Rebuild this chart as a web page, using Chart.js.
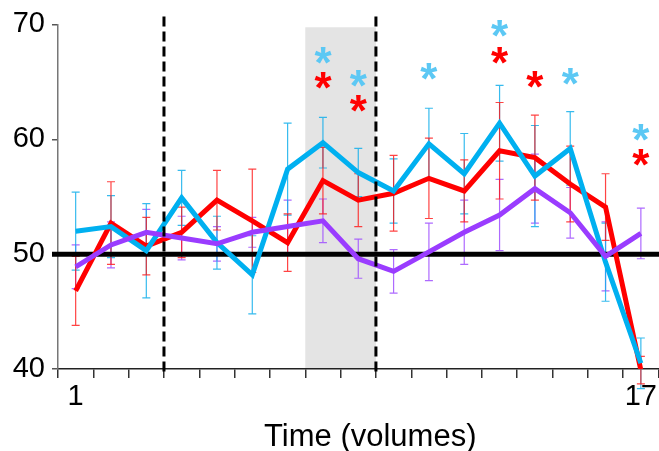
<!DOCTYPE html>
<html>
<head>
<meta charset="utf-8">
<script src="https://cdn.jsdelivr.net/npm/chart.js@4.4.1/dist/chart.umd.min.js"></script>
<style>
  html, body { margin: 0; padding: 0; background: #fff; }
  #wrap { width: 659px; height: 451px; }
</style>
</head>
<body>
<div id="wrap"><canvas id="volChart" width="659" height="451"></canvas></div>
<script>
// volumes on the x axis
const volumes = ['1', '2', '3', '4', '5', '6', '7', '8', '9', '10', '11', '12', '13', '14', '15', '16', '17'];

// mean signal per volume, with error (+/-) per volume
const purpleMean = [48.9, 50.8, 51.9, 51.4, 50.9, 51.9, 52.4, 52.9, 49.6, 48.5, 50.2, 51.9, 53.4, 55.7, 53.6, 49.8, 51.8];
const purpleErr  = [1.9, 2.0, 2.0, 1.9, 1.5, 1.3, 2.3, 1.9, 1.7, 1.9, 2.5, 2.8, 3.1, 3.0, 2.2, 3.0, 2.2];

const blueMean = [52.0, 52.4, 50.3, 54.9, 51.0, 48.2, 57.4, 59.7, 57.1, 55.5, 59.6, 57.0, 61.4, 56.8, 59.2, 49.3, 40.5];
const blueErr  = [3.4, 2.7, 4.1, 2.4, 2.3, 3.4, 4.0, 2.2, 2.1, 2.8, 3.1, 3.5, 3.3, 4.4, 3.2, 3.4, 2.2];

const redMean = [46.8, 52.7, 50.7, 51.9, 54.7, 52.9, 51.0, 56.4, 54.7, 55.3, 56.6, 55.5, 59.0, 58.4, 56.1, 54.1, 39.9];
const redErr  = [3.0, 3.6, 2.5, 2.2, 2.6, 4.5, 2.5, 2.9, 2.3, 3.3, 3.5, 2.7, 4.2, 3.7, 3.3, 2.9, 1.2];

// significance markers: [volume, height]
const blueStars = [[8, 67.0], [9, 65.0], [11, 65.65], [13, 69.4], [15, 65.2], [17, 60.3]];
const redStars  = [[8, 64.8], [9, 62.8], [13, 67.0], [14, 64.9], [17, 58.1]];

const yTicks = [40, 50, 60, 70];
const baseline = 50;
const onsets = [3.5, 9.5];       // dashed markers between volumes
const shadeVolumes = [8, 9];     // grey block
const shadeTop = 69.75;

const FONT = "'Liberation Sans', Arial, sans-serif";

const overlay = {
  id: 'overlay',
  beforeDatasetsDraw(chart) {
    const { ctx, chartArea, scales: { x, y } } = chart;
    const half = (x.getPixelForValue(1) - x.getPixelForValue(0)) / 2;
    ctx.save();

    // grey block
    const sx0 = x.getPixelForValue(shadeVolumes[0] - 1) - half;
    const sx1 = x.getPixelForValue(shadeVolumes[1] - 1) + half;
    const sy = y.getPixelForValue(shadeTop);
    ctx.fillStyle = '#e4e4e4';
    ctx.fillRect(sx0, sy, sx1 - sx0, chartArea.bottom - 1 - sy);

    // error bars
    chart.data.datasets.forEach(ds => {
      ctx.strokeStyle = ds.errColor;
      ctx.lineWidth = 1.2;
      ds.data.forEach((v, i) => {
        const e = ds.errors[i];
        const px = x.getPixelForValue(i);
        const top = y.getPixelForValue(v + e);
        const bot = y.getPixelForValue(v - e);
        ctx.beginPath();
        ctx.moveTo(px, top); ctx.lineTo(px, bot);
        ctx.moveTo(px - 4, top); ctx.lineTo(px + 4, top);
        ctx.moveTo(px - 4, bot); ctx.lineTo(px + 4, bot);
        ctx.stroke();
      });
    });

    // reference line at 50
    const by = y.getPixelForValue(baseline);
    ctx.strokeStyle = '#000';
    ctx.lineWidth = 5;
    ctx.beginPath();
    ctx.moveTo(chartArea.left - 6, by);
    ctx.lineTo(chart.width, by);
    ctx.stroke();
    ctx.restore();
  },
  afterDatasetsDraw(chart) {
    const { ctx, chartArea, scales: { x, y } } = chart;
    const step = x.getPixelForValue(1) - x.getPixelForValue(0);
    ctx.save();

    // onset markers
    ctx.strokeStyle = '#000';
    ctx.lineWidth = 3;
    ctx.setLineDash([10, 5]);
    onsets.forEach(o => {
      const px = x.getPixelForValue(0) + (o - 1) * step;
      ctx.beginPath();
      ctx.moveTo(px, chartArea.top - 8);
      ctx.lineTo(px, chartArea.bottom + 6);
      ctx.stroke();
    });
    ctx.setLineDash([]);

    // asterisks
    const size = 44;
    ctx.font = 'bold ' + size + 'px ' + FONT;
    ctx.textAlign = 'center';
    ctx.textBaseline = 'alphabetic';
    const drawStars = (list, color) => {
      ctx.fillStyle = color;
      list.forEach(([vol, h]) => {
        ctx.fillText('*', x.getPixelForValue(vol - 1), y.getPixelForValue(h) + size * 0.44);
      });
    };
    drawStars(blueStars, '#5cc8f4');
    drawStars(redStars, '#ff0000');

    // axis title
    ctx.fillStyle = '#000';
    ctx.font = '31px ' + FONT;
    ctx.textBaseline = 'alphabetic';
    ctx.fillText('Time (volumes)', (chartArea.left + chartArea.right) / 2 + 12, chart.height - 5);
    ctx.restore();
  }
};

new Chart(document.getElementById('volChart'), {
  type: 'line',
  data: {
    labels: volumes,
    datasets: [
      { data: purpleMean, errors: purpleErr, borderColor: '#9a3cff', errColor: 'rgba(160,80,255,0.85)' },
      { data: blueMean, errors: blueErr, borderColor: '#00b0f0', errColor: 'rgba(20,175,235,0.85)' },
      { data: redMean, errors: redErr, borderColor: '#ff0000', errColor: 'rgba(255,20,20,0.8)' }
    ].map(d => Object.assign(d, { borderWidth: 5, pointRadius: 0, tension: 0, fill: false }))
  },
  options: {
    responsive: false,
    animation: false,
    layout: { padding: { top: 24, right: 0, bottom: 0, left: 0 } },
    plugins: { legend: { display: false }, tooltip: { enabled: false } },
    scales: {
      x: {
        type: 'category',
        offset: true,
        grid: { display: true, offset: true, drawOnChartArea: false, drawTicks: true, tickLength: 9, color: '#333', lineWidth: 1.5 },
        border: { display: true, color: '#222', width: 1.5 },
        ticks: {
          autoSkip: false, maxRotation: 0, padding: 2,
          font: { family: FONT, size: 29 }, color: '#000',
          callback: (v, i) => (i === 0 || i === volumes.length - 1) ? volumes[i] : ''
        },
        afterFit: s => { s.height = 82; }
      },
      y: {
        min: 40, max: 70,
        afterBuildTicks: s => { s.ticks = yTicks.map(v => ({ value: v })); },
        grid: { display: true, drawOnChartArea: false, drawTicks: true, tickLength: 6, color: '#555', lineWidth: 1.5 },
        border: { display: true, color: '#777', width: 1.5 },
        ticks: { padding: 7, font: { family: FONT, size: 29 }, color: '#000' },
        afterFit: s => { s.width = 58; }
      }
    }
  },
  plugins: [overlay]
});
</script>
</body>
</html>
